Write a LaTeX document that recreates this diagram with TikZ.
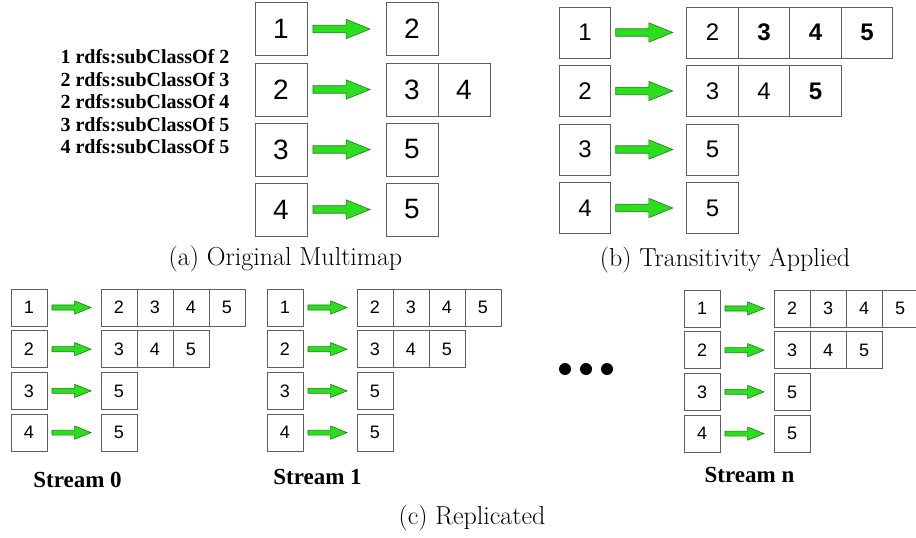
\documentclass[tikz,border=0pt]{standalone}
\usepackage{fontspec}
\newfontfamily\digitfont{Liberation Sans}
\newfontfamily\relfont{Liberation Serif}
\usetikzlibrary{positioning,calc}
\definecolor{arrowgreen}{RGB}{45,222,30}
\definecolor{arrowline}{RGB}{30,120,25}
\definecolor{cellline}{RGB}{95,95,95}
\tikzset{
  cell/.style={draw=cellline, line width=0.9pt, inner sep=0pt, outer sep=0pt},
  bigcell/.style={cell, minimum width=52pt, minimum height=53pt, font=\digitfont\fontsize{28}{28}\selectfont},
  midcell/.style={cell, minimum width=51.5pt, minimum height=51pt, font=\digitfont\fontsize{24}{24}\selectfont},
  smallcell/.style={cell, minimum width=36pt, minimum height=37pt, font=\digitfont\fontsize{18}{18}\selectfont},
  blockarrow/.style={fill=arrowgreen, draw=arrowline, line width=0.6pt, line join=miter},
  caption/.style={font=\fontsize{26}{26}\selectfont},
  streamlabel/.style={font=\relfont\bfseries\fontsize{23}{23}\selectfont},
}
% green block arrow between two points
\newcommand{\greenarrow}[2]{%
  \filldraw[blockarrow] let \p1=(#1), \p2=(#2), \n1={\x2-\x1} in
    (\x1,{\y1+0.065*\n1}) -- ({\x2-0.42*\n1},{\y1+0.065*\n1}) -- ({\x2-0.42*\n1},{\y1+0.17*\n1})
    -- (\x2,\y1) -- ({\x2-0.42*\n1},{\y1-0.17*\n1}) -- ({\x2-0.42*\n1},{\y1-0.065*\n1})
    -- (\x1,{\y1-0.065*\n1}) -- cycle;}
\begin{document}
\begin{tikzpicture}[x=1pt, y=-1pt]
  \useasboundingbox (0,0) rectangle (916,538);
  % (a) original multimap
  \node[anchor=west, align=left, font=\relfont\bfseries\fontsize{20}{22.5}\selectfont] (facts) at (57,102)
    {1 rdfs:subClassOf 2\\2 rdfs:subClassOf 3\\2 rdfs:subClassOf 4\\3 rdfs:subClassOf 5\\4 rdfs:subClassOf 5};
  \foreach \i/\y/\v in {1/29/2, 2/89.5/3, 3/149.5/5, 4/209.5/5}{
    \node[bigcell] (a\i) at (281,\y) {\i};
    \node[bigcell] (ar\i) at (412,\y) {\v};
  }
  \node[bigcell, right=0pt of ar2] (ar2b) {4};
  \foreach \i in {1,...,4}
    \greenarrow{$(a\i.east)+(6,0)$}{$(ar\i.west)-(16,0)$};
  \node[caption] (capa) at (285.5,259) {(a) Original Multimap};
  % (b) transitivity applied
  \foreach \i/\y/\v in {1/32.5/2, 2/91/3, 3/149.5/5, 4/208/5}{
    \node[midcell] (b\i) at (585,\y) {\i};
    \node[midcell] (br\i) at (712.5,\y) {\v};
  }
  \node[midcell, right=0pt of br1] (br1b) {\bfseries 3};
  \node[midcell, right=0pt of br1b] (br1c) {\bfseries 4};
  \node[midcell, right=0pt of br1c] (br1d) {\bfseries 5};
  \node[midcell, right=0pt of br2] (br2b) {4};
  \node[midcell, right=0pt of br2b] (br2c) {\bfseries 5};
  \foreach \i in {1,...,4}
    \greenarrow{$(b\i.east)+(5,0)$}{$(br\i.west)-(14,0)$};
  \node[caption] (capb) at (725,260) {(b) Transitivity Applied};
  % (c) replicated streams
  \foreach \s/\sx/\sy in {0/29/307.5, 1/285/307.5, n/702/308.5}{
    \foreach \i/\v in {1/2, 2/3, 3/5, 4/5}{
      \node[smallcell] (s\s l\i) at (\sx,{\sy+41.7*(\i-1)}) {\i};
      \node[smallcell] (s\s r\i) at (\sx+90,{\sy+41.7*(\i-1)}) {\v};
      \greenarrow{$(s\s l\i.east)+(5,0)$}{$(s\s r\i.west)-(10,0)$};
    }
    \node[smallcell, right=0pt of s\s r1] (s\s r1b) {3};
    \node[smallcell, right=0pt of s\s r1b] (s\s r1c) {4};
    \node[smallcell, right=0pt of s\s r1c] (s\s r1d) {5};
    \node[smallcell, right=0pt of s\s r2] (s\s r2b) {4};
    \node[smallcell, right=0pt of s\s r2b] (s\s r2c) {5};
  }
  \node[streamlabel] (lab0) at (77.5,480) {Stream 0};
  \node[streamlabel] (lab1) at (317.5,477) {Stream 1};
  \node[streamlabel] (labn) at (749.5,475) {Stream n};
  \foreach \x in {565,586,607}
    \fill (\x,369) circle (6);
  \node[caption] (capc) at (472,518) {(c) Replicated};
\end{tikzpicture}
\end{document}
